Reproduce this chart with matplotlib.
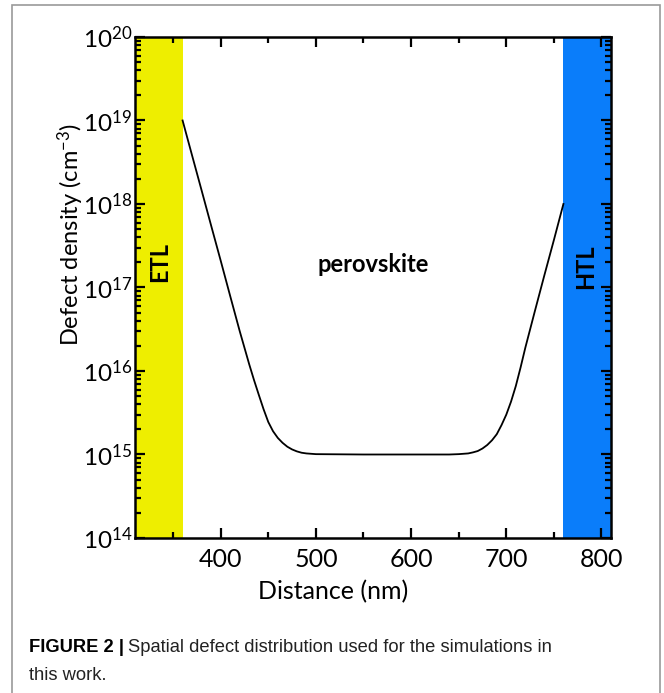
import matplotlib
matplotlib.use("Agg")
import matplotlib.pyplot as plt
from matplotlib.patches import Rectangle
from matplotlib.ticker import LogLocator, MultipleLocator, FixedLocator

plt.rcParams['font.family'] = ['Lato', 'DejaVu Sans']
plt.rcParams['mathtext.default'] = 'regular'

# Defect density profile across the absorber (nm, cm^-3)
distance_nm = [360, 370, 380, 390, 400, 410, 420, 430, 435, 440, 445, 450, 455,
               460, 465, 470, 475, 480, 485, 490, 500, 550, 600, 640, 650, 655,
               660, 665, 670, 675, 680, 685, 690, 695, 700, 705, 710, 715, 720,
               730, 740, 750, 760]
defect_density = [1.0e19, 3.8e18, 1.45e18, 5.5e17, 2.1e17, 7.9e16, 3.0e16, 1.2e16,
                  7.8e15, 5.2e15, 3.5e15, 2.45e15, 1.9e15, 1.58e15, 1.38e15,
                  1.24e15, 1.15e15, 1.09e15, 1.05e15, 1.03e15, 1.01e15, 1.0e15,
                  1.0e15, 1.0e15, 1.01e15, 1.02e15, 1.03e15, 1.06e15, 1.1e15,
                  1.18e15, 1.3e15, 1.48e15, 1.75e15, 2.25e15, 3.0e15, 4.3e15,
                  6.6e15, 1.1e16, 1.9e16, 5.2e16, 1.4e17, 3.7e17, 1.0e18]

# Layer extents (nm)
etl_span = (310, 360)
htl_span = (760, 810)
layer_labels = ["ETL", "perovskite", "HTL"]

x_ticks = [400, 500, 600, 700, 800]
y_exponents = [14, 15, 16, 17, 18, 19, 20]

fig = plt.figure(figsize=(6.64, 6.93), dpi=100)
W, H = 664, 693

# outer frame
fig.patches.append(Rectangle((12 / W, -0.05), (660 - 12) / W, (693 - 5) / H + 0.05,
                             transform=fig.transFigure, fill=False,
                             edgecolor='#9a9a9a', linewidth=1.2, clip_on=False))

ax = fig.add_axes([135 / W, 1 - 538 / H, (611 - 135) / W, (538 - 37) / H])
ax.set_yscale('log')
ax.set_xlim(310, 810)
ax.set_ylim(1e14, 1e20)

ax.axvspan(*etl_span, color='#EEEE00', lw=0, zorder=0)
ax.axvspan(*htl_span, color='#0A7DFA', lw=0, zorder=0)

ax.plot(distance_nm, defect_density, color='black', lw=1.3, zorder=3)

ax.text(336, 10 ** 17.3, layer_labels[0], rotation=90, ha='center', va='center',
        fontsize=17, fontweight='bold')
ax.text(560, 10 ** 17.27, layer_labels[1], ha='center', va='center',
        fontsize=17, fontweight='bold')
ax.text(783, 10 ** 17.25, layer_labels[2], rotation=90, ha='center', va='center',
        fontsize=17, fontweight='bold')

ax.xaxis.set_major_locator(FixedLocator(x_ticks))
ax.xaxis.set_minor_locator(MultipleLocator(50))
ax.set_xticklabels([str(t) for t in x_ticks])
ax.yaxis.set_major_locator(FixedLocator([10.0 ** e for e in y_exponents]))
ax.yaxis.set_minor_locator(LogLocator(base=10, subs=range(2, 10), numticks=20))
ax.set_yticklabels([r'$10^{%d}$' % e for e in y_exponents])

ax.tick_params(which='both', direction='in', top=True, right=True, width=1.6)
ax.tick_params(which='major', length=7)
ax.tick_params(which='minor', length=4)
ax.tick_params(axis='x', pad=7, labelsize=18)
ax.tick_params(axis='y', pad=2, labelsize=17.5)
for s in ax.spines.values():
    s.set_linewidth(1.8)

ax.set_xlabel('Distance (nm)', fontsize=18)
ax.set_ylabel('Defect density (cm$^{-3}$)', fontsize=17)
ax.xaxis.set_label_coords(0.416, -0.084)
ax.yaxis.set_label_coords(-0.103, 0.605)

# caption
cap_fam = ['Liberation Sans', 'DejaVu Sans']
cap_y = 1 - 648 / H
head = fig.text(29 / W, cap_y, 'FIGURE 2 |', fontsize=13.2, fontweight='bold',
                family=cap_fam, va='center', ha='left')
plt.annotate('Spatial defect distribution used for the simulations in',
             xy=(1, 0.5), xycoords=head, xytext=(3, 0),
             textcoords='offset points', va='center', ha='left',
             fontsize=13.2, family=cap_fam, color='#222222',
             annotation_clip=False)
fig.text(29 / W, 1 - 675 / H, 'this work.', fontsize=13.2, family=cap_fam,
         va='center', ha='left', color='#222222')

fig.savefig('out.png', dpi=100)
